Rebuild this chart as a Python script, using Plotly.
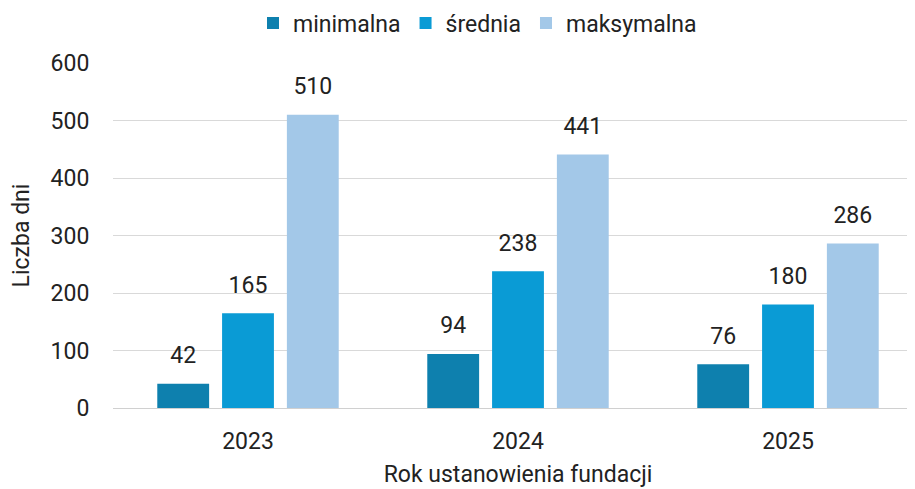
import plotly.graph_objects as go

years = ["2023", "2024", "2025"]
series_names = ["minimalna", "średnia", "maksymalna"]
minimalna = [42, 94, 76]
srednia = [165, 238, 180]
maksymalna = [510, 441, 286]
colors = ["#0E80AE", "#0A9BD5", "#A3C8E8"]
y_ticks = [0, 100, 200, 300, 400, 500, 600]

font_family = "Roboto, sans-serif"
fs = 23

fig = go.Figure()
for i, (name, vals, col) in enumerate(zip(series_names, [minimalna, srednia, maksymalna], colors)):
    fig.add_trace(go.Bar(
        x=years, y=vals, name=name, offsetgroup=str(i),
        marker=dict(color=col, line=dict(color=col, width=0)),
    ))
for i, vals in enumerate([minimalna, srednia, maksymalna]):
    fig.add_trace(go.Scatter(
        x=years, y=vals, mode="markers+text", offsetgroup=str(i),
        marker=dict(size=22, color="rgba(0,0,0,0)"),
        text=[str(v) for v in vals], textposition="top center",
        textfont=dict(size=fs, color="#222222", family=font_family),
        showlegend=False, hoverinfo="skip", cliponaxis=False,
    ))

fig.update_layout(
    width=915, height=489,
    margin=dict(l=105, r=0, t=55, b=89, autoexpand=False),
    plot_bgcolor="white", paper_bgcolor="white",
    barmode="group", bargap=0.28, bargroupgap=0.2,
    scattermode="group", scattergap=0.28,
    font=dict(family=font_family, size=fs, color="#222222"),
    legend=dict(orientation="h", x=0.45, xanchor="center", y=1.116, yanchor="middle",
                yref="paper", font=dict(size=fs),
                traceorder="normal"),
    showlegend=True,
)
fig.update_xaxes(showline=True, linecolor="#D0D0D0", linewidth=1, ticks="outside", ticklen=12,
                 tickcolor="white", automargin=False,
                 tickfont=dict(size=fs), title=dict(text="Rok ustanowienia fundacji", font=dict(size=fs), standoff=12))
fig.update_yaxes(range=[0, 600], tickvals=y_ticks, showgrid=True, gridcolor="#D9D9D9",
                 gridwidth=1, zeroline=False, tickfont=dict(size=fs), ticks="outside",
                 ticklen=18, tickcolor="white", automargin=False,
                 title=dict(text="Liczba dni", font=dict(size=fs), standoff=18))

fig.write_html("out.html")
